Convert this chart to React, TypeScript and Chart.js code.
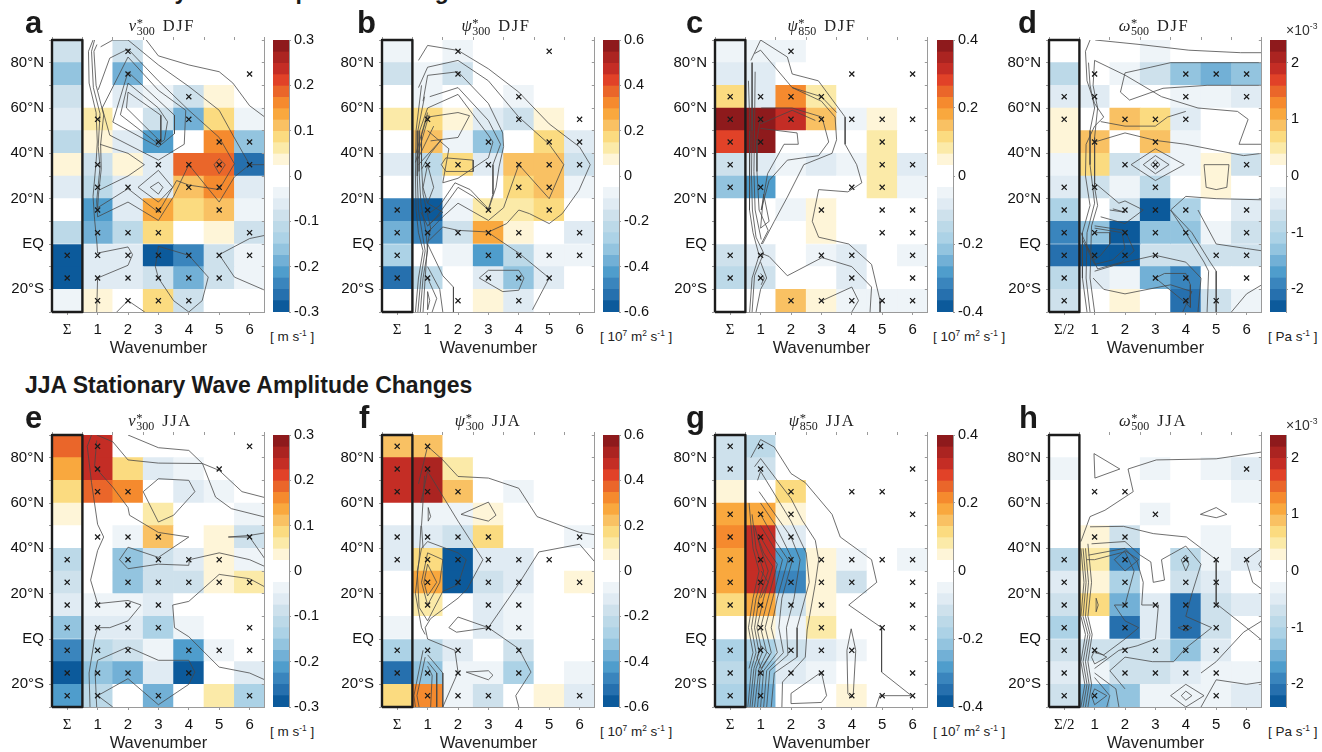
import React, { useEffect, useRef } from "react";
import { Chart } from "chart.js/auto";

// ---------- shared axis content ----------
const columnLabelsSum = ["Σ", "1", "2", "3", "4", "5", "6"];
const columnLabelsHalf = ["Σ/2", "1", "2", "3", "4", "5", "6"];
const latitudeCentres = [85, 75, 65, 55, 45, 35, 25, 15, 5, -5, -15, -25];
const latitudeLabels: Record<string, string> = { "80": "80°N", "60": "60°N", "40": "40°N", "20": "20°N", "0": "EQ", "-20": "20°S" };
const positiveColours = ["#ffffff", "#fef5d8", "#fbeaa8", "#fbdb80", "#f9c163", "#f9a83e", "#f58a2e", "#ea662a", "#e14228", "#c42d25", "#ab2421", "#8e1a1c"];
const negativeColours = ["#ffffff", "#eef4f8", "#e0ebf3", "#cee1ec", "#bcd9e8", "#acd2e6", "#93c4df", "#72b0d6", "#4f9dcc", "#3a85bd", "#2670ae", "#0c5a9b"];

const v300Ticks = [-0.3, -0.2, -0.1, 0, 0.1, 0.2, 0.3];
const psi300Ticks = [-0.6, -0.4, -0.2, 0, 0.2, 0.4, 0.6];
const psi850Ticks = [-0.4, -0.2, 0, 0.2, 0.4];
const omegaTicks = [-2, -1, 0, 1, 2];

// ---------- panel a : v300 DJF ----------
const aValues = [
  [-0.09, 0, -0.09, 0, 0, 0, 0],
  [-0.16, 0, -0.19, 0, 0, 0, 0],
  [-0.09, 0, -0.06, -0.04, -0.09, 0.04, 0],
  [-0.06, 0.06, 0, -0.09, -0.19, 0.09, -0.04],
  [-0.11, 0.04, -0.06, -0.21, 0, 0.16, -0.16],
  [0.04, -0.09, 0.04, -0.06, 0.19, 0.19, -0.26],
  [-0.06, -0.11, -0.06, -0.06, 0.11, 0.16, -0.06],
  [0, -0.21, -0.06, 0.14, 0.09, 0.11, -0.04],
  [-0.11, -0.19, -0.11, 0.09, 0, 0.04, -0.09],
  [-0.29, -0.06, -0.06, -0.29, -0.24, -0.09, -0.04],
  [-0.29, -0.06, -0.06, -0.09, -0.19, -0.09, -0.04],
  [-0.04, 0.04, 0, 0.09, -0.09, 0, 0],
];
const aCrosses = [
  [-5, -15],
  [55, 35, 25, 15, 5, -5, -15, -25],
  [85, 75, 25, 5, -5, -15, -25],
  [45, 35, 15, 5, -5, -15, -25],
  [65, 55, 35, 25, -5, -15, -25],
  [45, 35, 25, 15, -5, -15],
  [75, 45, 35, 5, -5],
];
const aContours = [
  [[0.85, 90], [0.7, 85], [0.72, 71], [0.95, 58], [0.99, 45], [0.95, 36], [0.85, 21], [0.9, 11], [0.98, 0], [1, -4], [2, -1.3], [2.15, -4.7], [2, -9.4], [1, -15], [0.97, -30]],
  [[0.9, 90], [0.8, 85], [0.86, 69], [1.08, 57.5], [1.02, 43], [1.08, 34], [0.97, 19], [1, 12], [2, 18.5], [3, 10.4], [3.5, 21], [4, 35], [5, 18.5], [5.5, 29.6], [6, 35], [6.5, 35]],
  [[0.98, 88], [0.88, 85], [0.95, 70], [1.2, 57], [1.1, 44], [1.12, 33], [1.03, 22], [1, 16], [2, 24.4], [3, 14], [3.6, 28], [4, 26], [5, 24], [5.5, 35.4], [5, 47], [4, 59], [3, 72], [2, 86], [1.4, 82], [1.02, 68]],
  [[2.6, 90], [3, 83], [4, 79], [5, 76], [5.45, 71], [6, 61], [6.5, 56]],
  [[1.1, 87], [1.5, 90], [2, 90], [3, 79], [4, 69.5], [5, 59], [5.45, 48], [6, 35]],
  [[2, 82.5], [3, 67.8], [3.9, 59], [3.85, 44], [3, 37], [1.4, 48], [1.15, 60], [2, 82.5]],
  [[2, 75.9], [3, 63.4], [3.53, 56.8], [3.53, 48.7], [3, 42.8], [1.5, 53.8], [2, 75.9]],
  [[2, 71], [3, 60], [3.3, 54], [3.2, 46], [3, 44], [1.75, 57], [2, 71]],
  [[2, 67], [3.08, 56.8], [3.08, 45], [1.95, 60], [2, 67]],
  [[3, 27.3], [3.15, 25], [3, 22], [2.73, 25], [3, 27.3]],
  [[3, 32.5], [3.47, 25], [3, 18.5], [2.33, 25], [3, 32.5]],
  [[1.08, 44], [2, 40], [2.54, 35], [2, 30], [1.08, 24]],
  [[5, 37.6], [5.2, 35], [5, 31], [4.83, 35], [5, 37.6]],
  [[3, -1], [4, -5], [4.64, -14.6], [4.44, -25], [4, -30]],
  [[3, -1], [2.9, -10], [3, -15], [3.5, -25], [4, -30]],
  [[5, -4.7], [6, 2.4], [6.5, 3.8]],
  [[5, -4.7], [5.5, -14.6], [6.5, -20.4]],
  [[1.63, -30], [2, -25], [2.55, -30]],
];

// ---------- panel b : psi300 DJF ----------
const bValues = [
  [-0.08, 0, -0.08, 0, 0, 0, 0],
  [-0.18, -0.08, -0.18, 0, 0, 0, 0],
  [0, -0.08, 0, 0, -0.08, 0, 0],
  [0.12, 0.18, 0.08, -0.12, -0.18, 0.08, 0],
  [0, 0.22, -0.08, -0.32, 0, 0.18, -0.12],
  [-0.12, -0.22, 0.15, -0.12, 0.22, 0.22, -0.18],
  [0, -0.18, 0, 0, 0.18, 0.22, -0.08],
  [-0.48, -0.58, -0.08, 0.12, 0.12, 0.18, 0],
  [-0.38, -0.48, -0.18, 0.28, 0.08, 0, -0.12],
  [-0.28, 0, -0.08, -0.42, -0.22, -0.08, -0.08],
  [-0.52, -0.22, 0, -0.12, -0.32, -0.12, 0],
  [0, 0, 0, 0.08, -0.12, 0, 0],
];
const bCrosses = [
  [15, 5, -5, -15],
  [55, 35, 15, 5, -15],
  [85, 75, 35, 5, -25],
  [45, 35, 15, 5, -5, -15],
  [65, 55, 35, 25, 5, -5, -15, -25],
  [85, 45, 35, 25, 15, -5, -15],
  [55, 45, 35, 5, -5],
];
const bContours = [
  [[0.7, 81], [1, 87.6], [2, 85.4], [3, 77.3], [4, 67], [5, 53], [6, 42.8], [6.35, 35], [5.98, 23.7], [5.43, 13.4], [5, 9], [4.35, 13.4], [4, 15], [3.6, 9], [3, 5.3], [2, 6], [1.5, 7.5], [1, 1]],
  [[0.7, 69], [1, 78], [2, 81], [3, 72], [4, 56], [5, 44], [5.48, 35], [5, 20], [4, 35], [3.5, 16], [3, 10.4], [2, 18], [1.5, 12], [1, 5]],
  [[0.85, 63], [1, 74.4], [2, 76], [3, 62], [3.47, 49], [3.5, 43], [3.35, 34], [3.25, 25], [3, 15], [2.5, 21], [2, 25], [1.3, 12], [1, 8]],
  [[1.07, 65], [2, 69], [3, 54.5], [3.4, 44], [3.15, 35], [3.15, 22], [3, 15.5], [2.4, 24], [1.9, 27], [1.4, 17], [1, 13]],
  [[1, 60], [2, 66], [3, 48], [3.15, 45], [3, 38], [2, 29], [1.5, 27], [1.7, 42], [1, 50]],
  [[1, 56], [2, 58], [2.38, 56.6], [2, 47], [1.1, 45.5]],
  [[1.6, 38], [2.5, 37], [2.5, 32], [1.6, 32], [1.45, 35], [1.6, 38]],
  [[0.8, 70], [0.62, 50], [0.6, 30], [0.62, 15], [0.7, 5], [0.85, -3], [0.7, -15], [0.6, -30]],
  [[0.9, 65], [0.68, 50], [0.66, 30], [0.7, 15], [0.82, 5], [0.92, -3], [0.78, -15], [0.68, -30]],
  [[1, 60], [0.74, 50], [0.72, 32], [0.78, 18], [0.95, 5], [1, -3], [0.85, -15], [0.76, -30]],
  [[1, 57], [0.8, 48], [0.8, 35], [0.85, 22], [1.1, 7], [1, 0], [0.92, -15], [0.85, -30]],
  [[0.62, 40], [1, 58]], [[0.6, 36], [1.05, 57]], [[0.66, 37], [1.2, 52]], [[0.7, 35], [1.45, 46], [1.1, 40], [0.8, 33]],
  [[1, 35], [0.85, 25], [1, 18], [1.2, 25], [1, 35]],
  [[1, 18], [1.5, 14], [1, 8], [0.78, 14]],
  [[2.7, -15], [3, -11.6], [4, -11.6], [4.17, -15], [4, -20.4], [3.47, -21], [2.7, -15]],
  [[3, 5], [4, -4], [5, -15], [4.45, -29]],
  [[1, 0], [1.5, -14], [1.85, -19], [1.85, -30]],
  [[1, -10], [1.4, -20], [1.5, -30]],
  [[1, -15], [1.3, -24], [1.15, -30]],
  [[1, -21], [1.07, -25], [1, -29], [1, -21]],
];

// ---------- panel c : psi850 DJF ----------
const cValues = [
  [-0.05, -0.05, -0.05, 0, 0, 0, 0],
  [-0.08, -0.08, 0, 0, 0, 0, 0],
  [0.12, -0.08, 0.22, 0.08, 0, 0, 0],
  [0.38, 0.38, 0.32, 0.16, -0.05, 0.05, 0],
  [0.28, 0.38, 0, 0, 0, 0.08, 0],
  [-0.12, -0.08, -0.05, -0.08, -0.05, 0.08, -0.08],
  [-0.22, -0.28, 0, 0, 0, 0.08, -0.05],
  [0, 0, -0.05, 0.05, 0, 0, 0],
  [0, 0, 0, 0.05, 0, 0, 0],
  [-0.12, -0.08, 0, -0.05, -0.08, 0, -0.05],
  [-0.15, -0.12, 0, 0, -0.08, 0, 0],
  [0, 0, 0.15, 0.05, -0.05, -0.05, -0.05],
];
const cCrosses = [
  [65, 55, 45, 35, 25, -5, -15],
  [65, 55, 45, 25, -5, -15],
  [85, 65, 55, -25],
  [65, 55, 15, -5, -25],
  [75, 55, 25, -5, -15, -25],
  [55, 45, 35, 25, 15, 5, -25],
  [75, 55, 35, 15, 5, -5, -15, -25],
];
const cContours = [
  [[0.68, 81], [1, 90], [1.88, 82.5], [2.04, 75], [2.9, 72], [3.78, 56], [3.78, 44], [4.16, 35], [4.33, 27], [3.87, 23], [2.91, 24], [2.7, 10], [2.91, 3], [3.9, 0], [4.65, -9], [4.93, -25], [4.93, -30]],
  [[0.8, 84], [1, 85.5], [2.04, 69], [3, 63], [3.45, 56], [3.5, 46], [3.35, 40], [2.42, 35], [1.88, 20.7], [1.45, 10], [1.06, 0]],
  [[1.02, 60], [2.04, 60], [3.02, 56], [3.24, 45], [2.91, 39], [1.88, 37], [1.28, 28], [1.02, 15]],
  [[1, 53], [2.04, 59], [2.8, 54.5]],
  [[1, 51], [2.2, 49], [2.24, 44], [1.77, 44], [1.23, 31], [1.02, 15]],
  [[2.04, 69], [3, 65], [3.5, 58]],
  [[0.6, 72], [0.65, 50], [0.62, 30], [0.65, 15], [0.75, 5], [0.95, -5], [0.72, -15], [0.64, -30]],
  [[0.72, 80], [0.72, 50], [0.7, 30], [0.73, 15], [0.85, 3], [1.1, -4], [0.8, -14], [0.72, -30]],
  [[0.82, 76], [0.8, 50], [0.78, 32], [0.82, 15], [1.02, 2]],
  [[1, 56], [0.88, 46], [0.88, 32], [0.95, 15], [1.25, 6], [1.02, 0]],
  [[1, 7], [1.1, 22], [1.28, 10], [1, 7]],
  [[1, -4], [1.28, -5.5], [1.88, -14], [3.02, -6], [4, -10], [4.65, -19], [4.6, -30]],
  [[3.02, -25], [4, -19], [4.22, -25], [4, -30]],
  [[1, -8], [1.2, -15], [1, -20], [0.85, -30]],
  [[1, -13], [1.12, -15], [1.02, -18]],
];

// ---------- panel d : omega500 DJF (x 10^-3) ----------
const dValues = [
  [0, 0, 0, -0.3, 0, 0, 0],
  [-0.9, 0, -0.3, -0.7, -1.3, -1.5, -1.3],
  [-0.5, -0.5, 0, 0, -0.3, -0.3, -0.5],
  [0.3, 0, 0.9, 0.7, -0.5, 0, 0],
  [0.3, 0.9, 0, 0.9, -0.3, 0, 0],
  [-0.3, 0.7, -0.7, -0.5, -0.3, 0.3, -0.7],
  [-0.5, -0.7, -0.3, -0.9, 0, 0.3, 0],
  [-1.1, 0, -0.7, -2.3, -1.1, 0, -0.5],
  [-1.9, -1.3, -2.3, -1.3, -1.3, -0.3, -0.7],
  [-2.1, -2.3, -2.3, -0.7, -0.7, -0.7, -0.7],
  [-0.9, -0.5, -0.3, -1.5, -1.9, 0, 0],
  [-0.7, 0, 0.3, 0, -2.1, -0.7, -0.3],
];
const dCrosses = [
  [65, 55, 25, 15, 5, -5, -15, -25],
  [75, 65, 45, 25, 5, -5],
  [55, 35, 15, 5, -5],
  [55, 45, 35, 25, 15, 5, -5, -15],
  [75, 65, 55, 15, 5, -15, -25],
  [75, -5, -25],
  [75, 65, 35, 15, 5, -5, -15],
];
const dContours = [
  [[1.02, 90], [2.5, 88], [4.1, 85.5], [5.8, 84.4], [6.5, 84.4]],
  [[2, 75.5], [2.85, 78], [3.5, 80], [6.5, 80]],
  [[2, 75.5], [1.85, 67], [2.15, 63.5], [3.25, 68.7], [4.7, 70], [6.5, 70]],
  [[1, 81], [2, 74.5], [3.2, 65], [4.4, 60], [5.7, 58.5], [6.05, 55], [5.75, 44], [6.5, 44]],
  [[1.2, 54], [2, 52], [3, 52], [3.4, 56], [4, 58.5]],
  [[1, 45], [2, 49], [3, 45.7], [4, 44], [5.9, 39], [6.5, 40]],
  [[3, 37], [3.15, 35], [3, 33], [2.85, 35], [3, 37]],
  [[3, 39], [3.45, 35], [3, 31], [2.6, 35], [3, 39]],
  [[3, 42], [3.95, 35], [3, 28], [2.2, 35], [3, 42]],
  [[4.6, 35], [5.42, 35], [5.35, 25], [5, 24], [4.67, 25], [4.6, 35]],
  [[3.5, 15], [4, 21], [5, 20], [6.5, 19.5]],
  [[1.5, 15], [2, 14], [1.6, 15.5]],
  [[1, 27], [1.8, 18], [2, 19], [2.6, 15], [2, 9], [1.2, 12]],
  [[3.5, 15], [4.2, 5], [4.8, -8], [5, -12], [5, -30]],
  [[3.5, 15], [4, 5], [4.6, -8], [4.75, -12], [4.7, -30]],
  [[4.4, 15], [5, 0], [6, -2], [6.5, -3]],
  [[5.5, -30], [6, -22], [6.5, -18]],
  [[1, 5], [1.5, 5], [1.5, 0], [1.2, -5], [1, -7], [0.7, 0]],
  [[1, 7], [1.9, 5], [2.0, -2], [1.6, -7], [1, -9], [0.6, 2]],
  [[1, 8], [2, 6], [2.3, -3], [1.9, -8], [1.1, -11], [0.55, 5]],
  [[1, -12], [2, -8], [3, -5], [4, -8], [4.5, -15], [4.4, -30]],
  [[3, -15], [3.3, -13], [4, -13], [4.15, -18], [4.15, -28], [4, -26], [3, -15]],
  [[0.85, 90], [0.7, 85], [0.75, 72], [1, 62], [1.3, 56], [1, 52], [0.72, 44], [0.7, 30], [0.85, 17], [0.6, 5], [0.6, -15], [0.75, -30]],
  [[0.8, 80], [0.85, 70], [1, 60], [0.85, 50], [0.85, 35], [1, 18], [0.75, 5], [0.72, -15], [0.85, -30]],
  [[1, 81], [0.95, 70], [1.1, 60], [1, 47], [1, 25], [1.1, 17], [0.9, 8], [0.85, -15], [1, -30]],
  [[0.95, -15], [1.3, -20], [2, -22], [3.5, -18], [4.2, -21], [3.9, -30]],
];

// ---------- panel e : v300 JJA ----------
const eValues = [
  [0.19, 0.24, 0, 0, 0, 0, 0],
  [0.14, 0.24, 0.09, -0.06, -0.04, 0, 0],
  [0.09, 0.19, 0.16, 0, -0.06, -0.04, 0],
  [0.04, 0, 0, 0.06, 0, 0, -0.04],
  [0, 0, -0.04, 0.11, 0, 0.04, -0.09],
  [-0.11, 0, -0.16, -0.09, -0.06, 0.04, -0.04],
  [-0.09, 0, -0.16, -0.09, -0.09, 0.04, 0.06],
  [-0.06, -0.04, -0.04, -0.06, 0, 0, 0],
  [-0.16, -0.06, -0.06, -0.14, -0.04, 0, 0],
  [-0.24, -0.11, -0.09, -0.04, -0.21, -0.04, 0],
  [-0.29, -0.16, -0.19, -0.06, -0.29, 0, -0.06],
  [-0.21, -0.11, 0, -0.19, 0, 0.06, -0.14],
];
const eCrosses = [
  [35, 25, 15, 5, -5, -15, -25],
  [85, 75, 65, 45, 15, 5, -5, -15, -25],
  [65, 45, 35, 25, 15, 5, -5, -15],
  [45, 35, 25, 15, 5, -25],
  [35, 25, -5, -15],
  [75, 35, 25, -5],
  [85, 45, 25, 5, -5, -25],
];
const eContours = [
  [[0.8, 90], [0.66, 85], [0.8, 69], [1, 50.6], [1.2, 45], [1, 39], [0.77, 26], [1, 15.6], [2, 17], [2.43, 15], [2, 8], [1.4, 5], [1, 5], [0.9, 0], [0.72, -15], [0.75, -30]],
  [[0.97, 87.6], [0.9, 76], [1.5, 67], [2, 58], [2.05, 54.6], [3, 47], [4, 45], [3, 36], [2, 40.5], [1.72, 35], [2, 31], [3, 33], [4, 32.5], [4.02, 35], [5, 38], [6, 35], [6.5, 32]],
  [[0.97, 90], [1.5, 87], [2, 79], [3, 77.6], [4.45, 77.4], [5, 74.4], [5.75, 65], [6.5, 62.4]],
  [[2, 90], [3, 84.4], [4, 83.2], [4.45, 77.4], [4.88, 62.6], [5.4, 57.5], [6.5, 53.8]],
  [[2.5, 65], [3, 70.7], [4, 70], [4.2, 65], [3.5, 54.6], [3, 51.6], [2.5, 65]],
  [[5.3, 45], [6, 45.7], [6.5, 46.8]],
  [[5.3, 45], [6, 45], [6.5, 35.4]],
  [[3.47, 15], [4, 16.6], [5, 28.5], [6, 26.6], [6.5, 23]],
  [[3.47, 15], [3.53, 5], [4, 1], [5, -12.4], [6, -15], [6.5, -18]],
  [[1, -9.4], [2, -3.5], [3, -9.4], [4, -9.4], [4.2, -14.6], [4, -20], [3, -29], [2, -17.5], [1, -25], [1.5, -30]],
  [[1, -9.4], [0.92, -15], [0.97, -30]],
];

// ---------- panel f : psi300 JJA ----------
const fValues = [
  [0.22, 0.22, 0, 0, 0, 0, 0],
  [0.48, 0.52, 0.12, 0, 0, 0, 0],
  [0.48, 0.52, 0.22, 0, -0.08, 0, 0],
  [0, -0.08, -0.08, 0.08, 0, 0, 0],
  [-0.12, -0.12, -0.18, 0.18, 0, 0, -0.08],
  [-0.12, 0.18, -0.58, -0.12, -0.12, 0, 0],
  [0, 0.28, -0.58, -0.18, -0.12, 0, 0.08],
  [0, 0.12, 0, -0.12, -0.08, 0, 0],
  [-0.08, 0, 0, -0.12, -0.08, 0, 0],
  [-0.28, -0.22, -0.12, 0, -0.18, 0, 0],
  [-0.52, -0.32, -0.08, -0.08, -0.28, 0, -0.08],
  [0.18, 0.32, -0.08, -0.18, 0, 0.08, -0.12],
];
const fCrosses = [
  [85, 75, 65, 45, 35, -5, -15],
  [85, 75, 65, 45, 35, 25, 15, -5, -15, -25],
  [65, 45, 35, 25, -5, -15, -25],
  [45, 35, 25, 15, 5, -25],
  [35, 25, 15, 5, -5, -15],
  [35],
  [45, 25, -25],
];
const fContours = [
  [[0.7, 68.5], [1, 85], [1.5, 79], [2, 71.7], [3, 71], [4, 66.5], [4.6, 54], [6, 47], [6.5, 46]],
  [[0.78, 60], [1, 74], [2, 52], [2.82, 35], [2.3, 22], [2, 18], [1.1, 9], [0.92, 5], [1, 0], [1.9, -5], [2, -14.6], [1.5, -30]],
  [[0.8, 40], [1, 43], [2, 38], [2.27, 35], [2, 24], [1.5, 21], [1, 8], [0.72, 14], [0.66, 30], [0.8, 40]],
  [[1, 38], [1.5, 35], [1.4, 25], [1, 15], [0.8, 25], [1, 38]],
  [[1, 33], [1.3, 25], [1, 19], [0.88, 25], [1, 33]],
  [[3, 5], [4, 24.4], [4.66, 38.4], [6, 41.8], [6.5, 34]],
  [[3, 5], [4, -4.3], [4.4, -14.6], [3.9, -25], [4, -30]],
  [[1.7, 5], [2, 9.7], [3, 5], [1.95, 3], [1.7, 5]],
  [[2.1, 55], [3, 60.4], [3.25, 54.6], [3, 52], [2.1, 55]],
  [[2.27, -14.6], [3, -14], [3.15, -16], [3, -18], [2.27, -14.6]],
  [[1.02, 58], [1.1, 54], [1.02, 52], [1.02, 58]],
  [[1, -7], [1.5, -15], [1.5, -30]],
  [[1, -10], [1.3, -15], [1.3, -30]],
  [[1, -12], [1.15, -16], [1.1, -30]],
  [[0.85, -5], [0.55, -25], [0.6, -30]],
  [[0.92, -8], [0.65, -25], [0.72, -30]],
  [[0.78, 50], [0.72, 35], [0.6, 20], [0.8, 5], [0.92, 2]],
  [[0.9, 72], [0.8, 50], [0.85, 40]],
];

// ---------- panel g : psi850 JJA ----------
const gValues = [
  [-0.12, -0.15, 0, 0, 0, 0, 0],
  [-0.12, -0.12, 0, 0, 0, 0, 0],
  [0.05, 0, 0.12, 0, 0, 0, 0],
  [0.18, 0.18, 0.05, 0, 0, 0, 0],
  [0.22, 0.32, -0.08, 0, 0, 0, 0],
  [0.18, 0.32, -0.28, 0.05, -0.05, 0, -0.05],
  [0.18, 0.32, -0.32, 0.05, -0.12, 0, 0],
  [0.12, 0.18, -0.12, 0.05, 0, 0, 0],
  [0, 0.05, -0.05, 0.08, 0, 0, 0],
  [-0.18, -0.18, -0.12, -0.08, -0.05, 0, 0],
  [-0.15, -0.22, -0.08, -0.05, 0, 0, 0],
  [-0.18, -0.25, 0, 0, 0.05, 0, 0],
];
const gCrosses = [
  [85, 75, 55, 45, 35, 25, 15, -5, -15, -25],
  [85, 75, 55, 45, 35, 25, 15, 5, -5, -15, -25],
  [65, 55, 45, 35, 25, 15, -5, -15],
  [35, 25, 15, 5, -5, -15],
  [65, 35, 25, -5, -25],
  [65, 35, 5, -25],
  [75, 55, 35, 25, 15, 5, -15, -25],
];
const gContours = [
  [[0.68, 80], [1, 88], [1.45, 84.7], [2, 73], [2.47, 69], [3.35, 55], [3.62, 45], [4.65, 35], [4.82, 25], [3.9, 15], [4.98, 5]],
  [[0.8, 76], [1, 79.6], [2, 62], [2.37, 52.4], [2.8, 43.5], [2.91, 35], [2.8, 24.4], [2.53, 4], [2.47, -8], [1.72, -19], [1.7, -30]],
  [[4.98, 5], [4.98, -14.6], [5.96, -25]],
  [[4.8, -30], [4.92, -25], [5.96, -25]],
  [[2, -24], [3, -14.6], [3.17, -25], [3, -28], [2, -28.5], [2, -24]],
  [[3.98, 4.5], [4.13, -5], [4.05, -24], [3.98, -26], [3.87, -24], [3.84, -5], [3.98, 4.5]],
  [[0.9, 70], [1, 74], [2, 52], [2.5, 38], [2.6, 25], [2.2, 5], [2.2, -8], [1.45, -15], [1.35, -30]],
  [[0.95, 65], [2, 45], [2.3, 35], [2.1, 18], [1.85, 5], [1.9, -7], [1.3, -14], [1.2, -30]],
  [[1, 60], [1.5, 50], [2.05, 35], [1.7, 18], [1.6, 5], [1.75, -6], [1.2, -14], [1.1, -30]],
  [[1, 55], [1.5, 43], [1.9, 35], [1.55, 18], [1.35, 5], [1.55, -6], [1.1, -14], [1, -30]],
  [[1, 50], [1.45, 40], [1.72, 35], [1.4, 18], [1.15, 5], [1.35, -6], [1, -14], [0.9, -30]],
  [[1, 45], [1.3, 38], [1.55, 33], [1.25, 18], [1, 5], [1.2, -6], [0.95, -13], [0.8, -30]],
  [[0.9, 45], [1.1, 38], [1.4, 32], [1.1, 18], [0.88, 5], [1.05, -6], [0.85, -13], [0.72, -30]],
  [[0.8, 50], [1, 40], [1.25, 30], [0.95, 18], [0.8, 5], [0.95, -6], [0.78, -13], [0.65, -30]],
  [[0.72, 55], [0.85, 40], [1.1, 30], [0.85, 18], [0.7, 5], [0.85, -6], [0.7, -13], [0.58, -30]],
  [[0.62, 60], [0.75, 40], [0.95, 30], [0.75, 18], [0.6, 5], [0.75, -6], [0.62, -13]],
  [[1.02, -3], [1.3, -7], [1.02, -13], [0.88, -8], [1.02, -3]],
  [[1.02, 30], [1.25, 25], [1, 18]],
];

// ---------- panel h : omega500 JJA (x 10^-3) ----------
const hValues = [
  [0, 0, 0, 0, 0, 0, 0],
  [-0.3, 0, 0, -0.3, 0, -0.3, -0.5],
  [0, 0, 0, 0, 0, 0, -0.3],
  [0, 0, 0, -0.3, 0, 0, 0],
  [0, 0.3, -0.7, 0, 0, -0.3, 0],
  [-0.9, 0.5, -1.9, 0, -0.9, -0.3, -0.5],
  [-0.5, 0.3, -1.1, 0, -0.7, -0.5, 0],
  [-0.7, 0.7, -1.5, -0.5, -2.1, -0.7, -0.5],
  [-1.1, 0, -2.1, -0.5, -2.1, -0.7, 0],
  [-0.7, -0.7, -0.7, -0.7, -1.3, -0.5, 0],
  [-0.5, -0.3, -0.7, -0.7, -0.5, -0.3, -0.3],
  [-0.7, -1.5, -1.3, -0.3, -0.3, -0.3, -0.5],
];
const hCrosses = [
  [35, 25, 15, 5, -5, -15, -25],
  [65, 45, -5, -25],
  [65, 45, 35, 25, 15, 5, -5, -15],
  [55, 15, -5, -15],
  [35, 25, 15, 5, -5, -15],
  [35, 25, 15, 5, -5, -15, -25],
  [75, 35],
];
const hContours = [
  [[0.98, 81.8], [1.83, 75], [1.01, 71], [0.98, 81.8]],
  [[0.55, 43], [0.85, 54], [1.34, 56.8], [2.27, 65], [2.1, 75], [3.03, 79], [5, 79.5], [6.5, 82.5]],
  [[4.48, 55], [5, 58], [5.35, 55], [5, 53.5], [4.48, 55]],
  [[0.85, 49.5], [1.95, 49.7], [2.93, 46.5], [4.02, 45], [5, 35], [5, 15.6], [6, 5], [6.5, -0.5]],
  [[0.9, 42], [2, 43], [2.5, 37], [2.85, 34], [2.93, 25], [3.3, 26], [3.2, 35], [4, 41], [4.5, 33], [4.2, 20], [4, 10], [4.85, 5], [4, -4], [3.6, -10], [2.9, -10], [2, -8], [1.5, -14], [2, -22]],
  [[0.8, 37], [2, 40], [2.4, 34], [2.6, 25], [2.55, 15], [2.95, 15], [3.1, 15], [3, 0], [2.4, -3], [1.8, -5], [1, -13]],
  [[1.65, 35], [2, 39], [2.45, 35], [2, 30], [1.65, 35]],
  [[0.75, 35], [1, 35], [2, 38.5], [2.3, 30], [2, 15], [1.65, 15], [2, 8], [2.45, 5], [2, 0], [1.3, -7], [1, -6]],
  [[3.75, 5], [4, 6], [4.2, 5], [4, 3.5], [3.75, 5]],
  [[3.85, 35], [4, 37], [4.1, 33], [4, 30], [3.85, 35]],
  [[5.98, 35], [6.5, 40]],
  [[5.98, 35], [6.2, 25], [6.5, 22]],
  [[6.5, 35], [6.4, 33], [6.5, 31]],
  [[3.5, -25], [4, -20], [4.6, -25], [4, -30], [3.5, -25]],
  [[3.85, -25], [4, -23], [4.2, -25], [4, -27], [3.85, -25]],
  [[4.5, -30], [5, -18], [6, -20], [6.5, -19]],
  [[4.5, -15], [5, -10], [5.9, 3], [6.5, 8]],
  [[1, -15], [1.7, -22], [1.8, -30]],
  [[1, -22], [1.4, -25], [1, -29], [0.9, -25], [1, -22]],
  [[1, -17], [1.5, -25], [1.4, -30]],
  [[1, -5], [1.4, -8], [1, -11], [0.9, -8], [1, -5]],
  [[1.05, 18], [1.12, 15], [1.05, 12], [1.05, 18]],
  [[0.55, 40], [0.65, 25], [0.55, 10], [0.7, 2], [0.55, -10], [0.68, -20], [0.55, -30]],
  [[0.62, 40], [0.72, 25], [0.62, 10], [0.78, 2], [0.62, -10], [0.75, -20], [0.62, -30]],
  [[0.7, 40], [0.8, 25], [0.7, 10], [0.85, 2], [0.7, -10], [0.82, -20], [0.7, -30]],
  [[0.78, 42], [0.9, 25], [0.78, 10], [0.92, 2], [0.78, -10], [0.9, -20], [0.78, -30]],
];

// ---------- panel descriptions ----------
type Panel = {
  letter: string; letterX: number; symbol: string; level: string; season: string; titleX: number;
  left: number; top: number; cbLeft: number; values: number[][]; crosses: number[][]; contours: number[][][];
  max: number; cbTicks: number[]; columns: string[]; unit: React.ReactNode; unitX: number;
};
const sup = (s: string) => <sup style={{ fontSize: "0.62em", lineHeight: 0 }}>{s}</sup>;
const unitV = <>[ m s{sup("-1")} ]</>;
const unitPsi = <>[ 10{sup("7")} m{sup("2")} s{sup("-1")} ]</>;
const unitOmega = <>[ Pa s{sup("-1")} ]</>;
const rowTop = [40, 435];

const panels: Panel[] = [
  { letter: "a", letterX: 25, symbol: "v", level: "300", season: "DJF", titleX: 162, left: 52, top: rowTop[0], cbLeft: 273, values: aValues, crosses: aCrosses, contours: aContours, max: 0.3, cbTicks: v300Ticks, columns: columnLabelsSum, unit: unitV, unitX: 270 },
  { letter: "b", letterX: 357, symbol: "ψ", level: "300", season: "DJF", titleX: 496, left: 382, top: rowTop[0], cbLeft: 603, values: bValues, crosses: bCrosses, contours: bContours, max: 0.6, cbTicks: psi300Ticks, columns: columnLabelsSum, unit: unitPsi, unitX: 600 },
  { letter: "c", letterX: 686, symbol: "ψ", level: "850", season: "DJF", titleX: 822, left: 715, top: rowTop[0], cbLeft: 937, values: cValues, crosses: cCrosses, contours: cContours, max: 0.4, cbTicks: psi850Ticks, columns: columnLabelsSum, unit: unitPsi, unitX: 933 },
  { letter: "d", letterX: 1018, symbol: "ω", level: "500", season: "DJF", titleX: 1154, left: 1049, top: rowTop[0], cbLeft: 1270, values: dValues, crosses: dCrosses, contours: dContours, max: 2.4, cbTicks: omegaTicks, columns: columnLabelsHalf, unit: unitOmega, unitX: 1268 },
  { letter: "e", letterX: 25, symbol: "v", level: "300", season: "JJA", titleX: 160, left: 52, top: rowTop[1], cbLeft: 273, values: eValues, crosses: eCrosses, contours: eContours, max: 0.3, cbTicks: v300Ticks, columns: columnLabelsSum, unit: unitV, unitX: 270 },
  { letter: "f", letterX: 359, symbol: "ψ", level: "300", season: "JJA", titleX: 488, left: 382, top: rowTop[1], cbLeft: 603, values: fValues, crosses: fCrosses, contours: fContours, max: 0.6, cbTicks: psi300Ticks, columns: columnLabelsSum, unit: unitPsi, unitX: 600 },
  { letter: "g", letterX: 686, symbol: "ψ", level: "850", season: "JJA", titleX: 822, left: 715, top: rowTop[1], cbLeft: 937, values: gValues, crosses: gCrosses, contours: gContours, max: 0.4, cbTicks: psi850Ticks, columns: columnLabelsSum, unit: unitPsi, unitX: 933 },
  { letter: "h", letterX: 1019, symbol: "ω", level: "500", season: "JJA", titleX: 1153, left: 1049, top: rowTop[1], cbLeft: 1270, values: hValues, crosses: hCrosses, contours: hContours, max: 2.4, cbTicks: omegaTicks, columns: columnLabelsHalf, unit: unitOmega, unitX: 1268 },
];

const PLOT_W = 215, PLOT_H = 272, M_LEFT = 50, M_RIGHT = 3, M_TOP = 7, M_BOTTOM = 46;
const SANS = "'Liberation Sans', Arial, sans-serif";
const SERIF = "'Liberation Serif', 'Times New Roman', serif";
const AXIS = "#9a9a9a";

const noPadding = (a: any) => { a.paddingTop = 0; a.paddingBottom = 0; a.paddingLeft = 0; a.paddingRight = 0; };

function colourFor(v: number, max: number) {
  const band = max / 12;
  const level = Math.min(11, Math.floor(Math.abs(v) / band));
  return v >= 0 ? positiveColours[level] : negativeColours[level];
}

function HeatPanel({ p }: { p: Panel }) {
  const ref = useRef<HTMLCanvasElement>(null);
  useEffect(() => {
    const cells: { x: number; y: number[] }[] = [];
    const fills: string[] = [];
    p.values.forEach((row, r) => row.forEach((v, c) => {
      cells.push({ x: c, y: [latitudeCentres[r] - 5, latitudeCentres[r] + 5] });
      fills.push(colourFor(v, p.max));
    }));
    const marks = p.crosses.flatMap((lats, c) => lats.map((lat) => ({ x: c, y: lat })));
    const yGridTicks = [-30, -20, -10, 0, 10, 20, 30, 40, 50, 60, 70, 80, 90];
    const xGridTicks = [0, 1, 2, 3, 4, 5, 6];
    const setY = (a: any) => { a.ticks = yGridTicks.map((value) => ({ value })); };
    const setX = (a: any) => { a.ticks = xGridTicks.map((value) => ({ value })); };
    const datasets: any[] = [
      { type: "line", data: [{ x: -0.5, y: -30 }, { x: -0.5, y: 90 }, { x: 0.5, y: 90 }, { x: 0.5, y: -30 }, { x: -0.5, y: -30 }], borderColor: "#1c1c1c", borderWidth: 2.4, pointRadius: 0, tension: 0, clip: 4, borderJoinStyle: "round" },
      { type: "line", data: marks, showLine: false, pointStyle: "crossRot", pointRadius: 3.6, pointBorderColor: "#1a1a1a", pointBorderWidth: 1.2, pointBackgroundColor: "transparent" },
      ...p.contours.map((line) => ({ type: "line", data: line.map(([x, y]) => ({ x, y })), borderColor: "rgba(70,70,70,0.78)", borderWidth: 1, pointRadius: 0, tension: 0 })),
      { type: "bar", data: cells, backgroundColor: fills, borderWidth: 0, barPercentage: 1, categoryPercentage: 1 },
    ];
    const chart = new Chart(ref.current!, {
      type: "bar",
      data: { datasets },
      options: {
        animation: false, responsive: false, events: [],
        layout: { padding: 0 },
        plugins: { legend: { display: false }, tooltip: { enabled: false }, title: { display: false } },
        scales: {
          x: {
            type: "linear", min: -0.5, max: 6.5, offset: false, position: "bottom",
            afterBuildTicks: setX,
            afterFit: (a: any) => { a.height = M_BOTTOM; noPadding(a); },
            grid: { drawOnChartArea: false, tickLength: 3, color: AXIS, offset: false },
            border: { color: AXIS },
            title: { display: true, text: "Wavenumber", color: "#222", font: { family: SANS, size: 16.5 }, padding: 0 },
            ticks: {
              autoSkip: false, maxRotation: 0, color: "#111", padding: 6,
              font: (ctx: any) => (ctx.tick && ctx.tick.value === 0 ? { family: SERIF, size: 15 } : { family: SANS, size: 15 }),
              callback: (v: any) => p.columns[Number(v)] ?? "",
            },
          },
          y: {
            type: "linear", min: -30, max: 90, position: "left",
            afterBuildTicks: setY,
            afterFit: (a: any) => { a.width = M_LEFT; noPadding(a); },
            grid: { drawOnChartArea: false, tickLength: 3, color: AXIS },
            border: { color: AXIS },
            ticks: {
              autoSkip: false, color: "#111", padding: 5, font: { family: SANS, size: 15 },
              callback: (v: any) => latitudeLabels[String(v)] ?? "",
            },
          },
          x2: {
            type: "linear", min: -0.5, max: 6.5, position: "top", offset: false,
            afterBuildTicks: setX,
            afterFit: (a: any) => { a.height = M_TOP; noPadding(a); },
            grid: { drawOnChartArea: false, tickLength: 3, color: AXIS },
            border: { color: AXIS },
            ticks: { display: false },
          },
          y2: {
            type: "linear", min: -30, max: 90, position: "right",
            afterBuildTicks: setY,
            afterFit: (a: any) => { a.width = M_RIGHT; noPadding(a); },
            grid: { drawOnChartArea: false, tickLength: -3, color: AXIS, z: 2 },
            border: { color: AXIS, z: 2 },
            ticks: { display: false },
          },
        },
      } as any,
    });
    return () => chart.destroy();
  }, [p]);
  return (
    <canvas ref={ref} width={M_LEFT + PLOT_W + M_RIGHT} height={M_TOP + PLOT_H + M_BOTTOM}
      style={{ position: "absolute", left: p.left - M_LEFT, top: p.top - M_TOP, width: M_LEFT + PLOT_W + M_RIGHT, height: M_TOP + PLOT_H + M_BOTTOM }} />
  );
}

function ColourBar({ p }: { p: Panel }) {
  const ref = useRef<HTMLCanvasElement>(null);
  useEffect(() => {
    const band = p.max / 12;
    const segs: { x: number; y: number[] }[] = [];
    const fills: string[] = [];
    for (let i = 0; i < 12; i++) {
      segs.push({ x: 0, y: [i * band, (i + 1) * band] }); fills.push(positiveColours[i]);
      segs.push({ x: 0, y: [-(i + 1) * band, -i * band] }); fills.push(negativeColours[i]);
    }
    const chart = new Chart(ref.current!, {
      type: "bar",
      data: { datasets: [{ data: segs, backgroundColor: fills, borderWidth: 0, barPercentage: 1, categoryPercentage: 1 }] } as any,
      options: {
        animation: false, responsive: false, events: [],
        layout: { padding: { top: 10, bottom: 10, left: 0, right: 0 } },
        plugins: { legend: { display: false }, tooltip: { enabled: false } },
        scales: {
          x: { type: "linear", min: -0.5, max: 0.5, offset: false, display: false },
          y: {
            type: "linear", min: -p.max, max: p.max, position: "right",
            afterBuildTicks: (a: any) => { a.ticks = p.cbTicks.map((value) => ({ value })); },
            afterFit: (a: any) => { a.width = 40; noPadding(a); },
            grid: { drawOnChartArea: false, tickLength: 2, color: AXIS, z: 2 },
            border: { color: AXIS, z: 2 },
            ticks: { autoSkip: false, color: "#111", padding: 3, font: { family: SANS, size: 14.5 }, callback: (v: any) => String(v) },
          },
        },
      } as any,
    });
    return () => chart.destroy();
  }, [p]);
  return (
    <canvas ref={ref} width={56} height={PLOT_H + 20}
      style={{ position: "absolute", left: p.cbLeft, top: p.top - 10, width: 56, height: PLOT_H + 20 }} />
  );
}

function PanelTitle({ p }: { p: Panel }) {
  const baseline = p.top - 9;
  return (
    <div style={{ position: "absolute", left: p.titleX - 60, top: baseline - 14, width: 120, textAlign: "center", font: `16.5px/18px ${SERIF}`, color: "#222", whiteSpace: "nowrap", letterSpacing: "0.6px" }}>
      <i>{p.symbol}</i>
      <span style={{ display: "inline-block", position: "relative", width: 21, height: 1 }}>
        <span style={{ position: "absolute", left: 0, top: -16, fontSize: 12.5 }}>*</span>
        <span style={{ position: "absolute", left: 0, top: -8, fontSize: 12, letterSpacing: 0 }}>{p.level}</span>
      </span>
      <span style={{ marginLeft: 5, letterSpacing: "1.6px" }}>{p.season}</span>
    </div>
  );
}

const sectionLabel = (text: string, top: number) => (
  <div style={{ position: "absolute", left: 25, top, font: `bold 23px/1 ${SANS}`, color: "#1a1a1a", whiteSpace: "nowrap" }}>{text}</div>
);

export default function App() {
  return (
    <div style={{ position: "fixed", left: 0, top: 0, width: 1322, height: 752, overflow: "hidden", background: "#fff" }}>
      {sectionLabel("DJF Stationary Wave Amplitude Changes", -20)}
      {sectionLabel("JJA Stationary Wave Amplitude Changes", 374)}
      {panels.map((p) => (
        <React.Fragment key={p.letter}>
          <HeatPanel p={p} />
          <ColourBar p={p} />
          <PanelTitle p={p} />
          <div style={{ position: "absolute", left: p.letterX, top: p.top - 33, font: `bold 31px/1 ${SANS}`, color: "#1a1a1a" }}>{p.letter}</div>
          <div style={{ position: "absolute", left: p.unitX, top: p.top + 289, font: `13.5px/16px ${SANS}`, color: "#222", whiteSpace: "nowrap" }}>{p.unit}</div>
          {p.max === 2.4 && (
            <div style={{ position: "absolute", left: 1286, top: p.top - 18, font: `14px/16px ${SANS}`, color: "#333", whiteSpace: "nowrap" }}>×10{sup("-3")}</div>
          )}
        </React.Fragment>
      ))}
    </div>
  );
}
